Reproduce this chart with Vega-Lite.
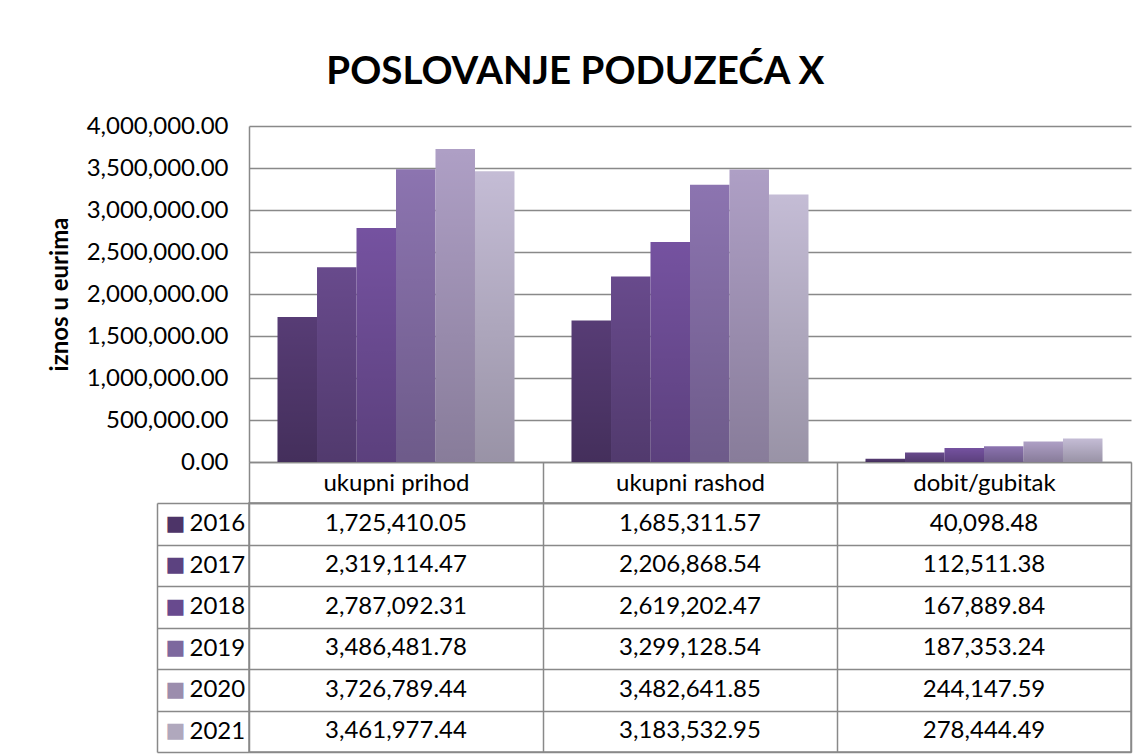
{
  "$schema": "https://vega.github.io/schema/vega-lite/v6.json",
  "padding": {"left": 48, "top": 52, "right": 12, "bottom": 0},
  "background": "white",
  "title": {"text": "POSLOVANJE PODUZEĆA X", "fontSize": 38.5, "font": "Lato", "fontWeight": "bold", "color": "#000000", "anchor": "middle", "offset": 22, "dx": -15},
  "data": {"values": [
    {"kategorija": "ukupni prihod", "godina": "2016", "iznos": 1725410.05},
    {"kategorija": "ukupni prihod", "godina": "2017", "iznos": 2319114.47},
    {"kategorija": "ukupni prihod", "godina": "2018", "iznos": 2787092.31},
    {"kategorija": "ukupni prihod", "godina": "2019", "iznos": 3486481.78},
    {"kategorija": "ukupni prihod", "godina": "2020", "iznos": 3726789.44},
    {"kategorija": "ukupni prihod", "godina": "2021", "iznos": 3461977.44},
    {"kategorija": "ukupni rashod", "godina": "2016", "iznos": 1685311.57},
    {"kategorija": "ukupni rashod", "godina": "2017", "iznos": 2206868.54},
    {"kategorija": "ukupni rashod", "godina": "2018", "iznos": 2619202.47},
    {"kategorija": "ukupni rashod", "godina": "2019", "iznos": 3299128.54},
    {"kategorija": "ukupni rashod", "godina": "2020", "iznos": 3482641.85},
    {"kategorija": "ukupni rashod", "godina": "2021", "iznos": 3183532.95},
    {"kategorija": "dobit/gubitak", "godina": "2016", "iznos": 40098.48},
    {"kategorija": "dobit/gubitak", "godina": "2017", "iznos": 112511.38},
    {"kategorija": "dobit/gubitak", "godina": "2018", "iznos": 167889.84},
    {"kategorija": "dobit/gubitak", "godina": "2019", "iznos": 187353.24},
    {"kategorija": "dobit/gubitak", "godina": "2020", "iznos": 244147.59},
    {"kategorija": "dobit/gubitak", "godina": "2021", "iznos": 278444.49}
  ]},
  "spacing": 41,
  "bounds": "flush",
  "resolve": {"scale": {"x": "independent", "y": "independent"}},
  "config": {
    "font": "Lato",
    "view": {"stroke": null},
    "axis": {"labelFont": "Lato", "labelFontSize": 24, "labelColor": "#000000", "titleFont": "Lato", "titleColor": "#000000", "domainColor": "#898989", "gridColor": "#898989", "tickColor": "#898989", "domainWidth": 1.5, "gridWidth": 1.5, "tickWidth": 1.5}
  },
  "vconcat": [
    {
      "width": 882,
      "height": 336,
      "layer": [
        {
          "mark": {"type": "bar"},
          "encoding": {
            "x": {"field": "kategorija", "type": "nominal", "sort": ["ukupni prihod", "ukupni rashod", "dobit/gubitak"], "scale": {"paddingInner": 0.194, "paddingOuter": 0.097}, "axis": {"labels": false, "ticks": false, "title": null, "domain": true, "grid": false}},
            "xOffset": {"field": "godina", "type": "nominal", "sort": ["2016", "2017", "2018", "2019", "2020", "2021"], "scale": {"paddingInner": 0, "paddingOuter": 0}},
            "y": {"field": "iznos", "type": "quantitative", "scale": {"domain": [0, 4000000], "nice": false}, "axis": {"title": "iznos u eurima", "titleFontSize": 24, "titleFontWeight": "bold", "titlePadding": 14, "format": ",.2f", "values": [0, 500000, 1000000, 1500000, 2000000, 2500000, 3000000, 3500000, 4000000], "ticks": false, "labelPadding": 21, "grid": true, "domain": true}},
            "color": {"field": "godina", "type": "nominal", "scale": {"domain": ["2016", "2017", "2018", "2019", "2020", "2021"], "range": ["#573c75", "#684a8c", "#7552a0", "#8c74b0", "#ae9fc5", "#c4bcd5"]}, "legend": null}
          }
        },
        {
          "mark": {"type": "bar", "fill": {"gradient": "linear", "x1": 0, "y1": 0, "x2": 0, "y2": 1, "stops": [{"offset": 0, "color": "rgba(0,0,0,0)"}, {"offset": 1, "color": "rgba(0,0,0,0.22)"}]}},
          "encoding": {
            "x": {"field": "kategorija", "type": "nominal", "sort": ["ukupni prihod", "ukupni rashod", "dobit/gubitak"]},
            "xOffset": {"field": "godina", "type": "nominal", "sort": ["2016", "2017", "2018", "2019", "2020", "2021"]},
            "y": {"field": "iznos", "type": "quantitative"}
          }
        }
      ]
    },
    {
      "width": 882,
      "height": 249,
      "view": {"stroke": "#898989", "strokeWidth": 1.5},
      "resolve": {"axis": {"y": "independent"}},
      "layer": [
        {
          "mark": {"type": "text", "fontSize": 24, "font": "Lato", "color": "#000000"},
          "encoding": {
            "x": {"field": "kategorija", "type": "nominal", "sort": ["ukupni prihod", "ukupni rashod", "dobit/gubitak"], "scale": {"paddingInner": 0, "paddingOuter": 0}, "axis": {"orient": "top", "title": null, "tickBand": "extent", "tickSize": 41, "grid": true, "labelPadding": -21, "labelBaseline": "middle", "labelAngle": 0, "domain": true}},
            "y": {"field": "godina", "type": "nominal", "sort": ["2016", "2017", "2018", "2019", "2020", "2021"], "scale": {"paddingInner": 0, "paddingOuter": 0}, "axis": {"orient": "left", "offset": 92, "title": null, "tickBand": "extent", "tickSize": -92, "grid": true, "labelAlign": "left", "labelPadding": 60, "domain": true}},
            "text": {"field": "iznos", "type": "quantitative", "format": ",.2f"}
          }
        },
        {
          "mark": {"type": "text", "opacity": 0},
          "encoding": {
            "y": {"field": "godina", "type": "nominal", "sort": ["2016", "2017", "2018", "2019", "2020", "2021"], "axis": {"orient": "left", "offset": 92, "title": null, "ticks": false, "grid": false, "domain": false, "labelExpr": "'■'", "labelFont": "DejaVu Sans", "labelFontSize": 21, "labelAlign": "left", "labelPadding": -8, "labelColor": {"condition": [{"test": "datum.value == '2016'", "value": "#4d3468"}, {"test": "datum.value == '2017'", "value": "#5c4280"}, {"test": "datum.value == '2018'", "value": "#684a8e"}, {"test": "datum.value == '2019'", "value": "#7d689e"}, {"test": "datum.value == '2020'", "value": "#9b8dad"}], "value": "#b0a8bd"}}},
            "text": {"value": ""}
          }
        }
      ]
    }
  ]
}
